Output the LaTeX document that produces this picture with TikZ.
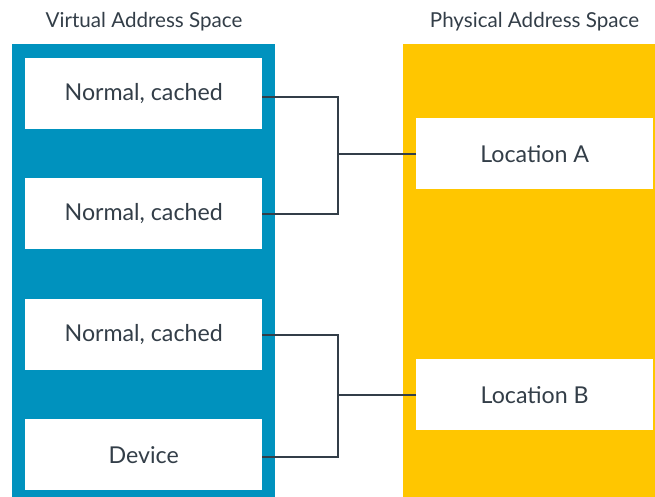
\documentclass[tikz,border=0pt]{standalone}
\usepackage{fontspec}
\setmainfont{Lato}
\definecolor{vblue}{HTML}{0092BE}
\definecolor{pyellow}{HTML}{FFC600}
\definecolor{ink}{HTML}{333E48}
\begin{document}
\begin{tikzpicture}[x=1pt,y=-1pt,
  box/.style={fill=white, draw=none, minimum width=237pt, minimum height=71pt,
    inner sep=0pt, font=\fontsize{23.2}{26}\selectfont, text=ink, anchor=north west},
  title/.style={font=\fontsize{20.6}{24}\selectfont, text=ink},
  conn/.style={draw=ink, line width=2.2pt}]
\useasboundingbox (0,0) rectangle (655,497);
\fill[vblue] (12,44) rectangle (275,497);
\fill[pyellow] (403,44) rectangle (655,497);
\node[title] (vt) at (144,22) {Virtual Address Space};
\node[title] (pt) at (534.5,22) {Physical Address Space};
\node[box] (v1) at (25,58) {Normal, cached};
\node[box] (v2) at (25,178) {Normal, cached};
\node[box] (v3) at (25,299) {Normal, cached};
\node[box] (v4) at (25,419) {Device};
\node[box] (la) at (416,118) {Location A};
\node[box] (lb) at (416,359) {Location B};
\draw[conn] (la.west) -- ++(-78,0) coordinate (ja);
\draw[conn] ([yshift=-3.5pt]v1.east) -| (ja) |- (v2.east);
\draw[conn] (lb.west) -- ++(-78,0) coordinate (jb);
\draw[conn] (v3.east) -| (jb) |- ([yshift=-2.5pt]v4.east);
\end{tikzpicture}
\end{document}
